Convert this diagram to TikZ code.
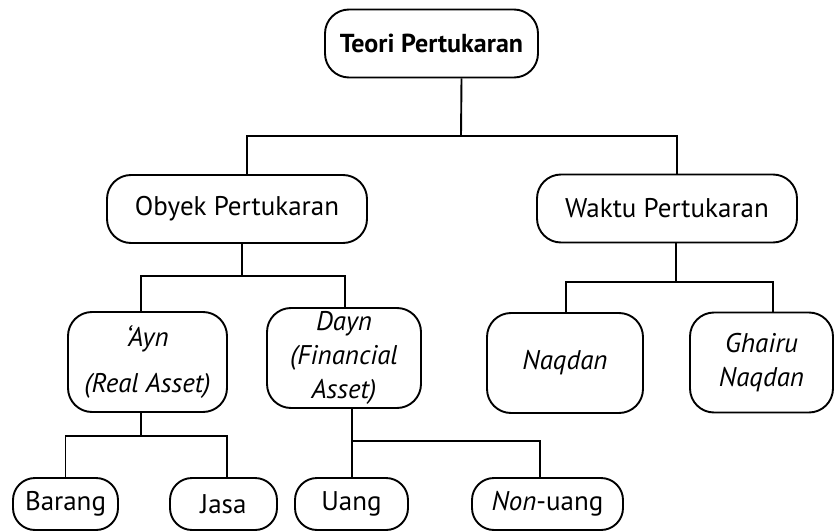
\documentclass[tikz,border=0pt]{standalone}
\usepackage{fontspec}
\setmainfont{PT Sans}
\begin{document}
\begin{tikzpicture}[x=1pt,y=-1pt,
  line width=1.9pt,
  kotak/.style={draw,rounded corners=24pt,align=center,inner sep=0pt,font=\fontsize{27}{34}\selectfont},
  besar/.style={kotak,minimum width=260pt,minimum height=68pt},
  sedang/.style={kotak,minimum width=156pt,minimum height=100pt},
  kecil/.style={kotak,rounded corners=22pt,minimum height=52pt}]
\useasboundingbox (0,0) rectangle (835,532);
% tingkat atas
\node[besar,minimum width=213pt,font=\fontsize{26}{34}\selectfont\bfseries] (teori) at (431.5,43.5) {Teori Pertukaran};
\node[besar] (obyek) at (237,209) {Obyek Pertukaran};
\node[besar] (waktu) at (667,208.5) {Waktu Pertukaran};
% tingkat tengah
\node[sedang,minimum width=159pt] (ayn) at (147.5,362) {\textit{`Ayn}\\[12pt]\textit{(Real Asset)}};
\node[sedang,minimum width=154pt] (dayn) at (344,358) {\textit{Dayn}\\\textit{(Financial}\\\textit{Asset)}};
\node[sedang] (naqdan) at (565,363) {\textit{Naqdan}};
\node[sedang,minimum width=143pt] (ghairu) at (761.5,362.5) {\textit{Ghairu}\\\textit{Naqdan}};
% tingkat bawah
\node[kecil,minimum width=105pt] (barang) at (65.5,504) {Barang};
\node[kecil,minimum width=107pt] (jasa) at (223.5,504) {Jasa};
\node[kecil,minimum width=113pt] (uang) at (351.5,504) {Uang};
\node[kecil,minimum width=151pt] (nonuang) at (547.5,504) {\textit{Non}-uang};
% garis
\coordinate (j0) at (461,136);
\draw ([xshift=30]teori.south) -- (j0);
\draw (j0) -| ([xshift=10]obyek.north);
\draw (j0) -| ([xshift=10]waktu.north);
\coordinate (j1) at (242,276);
\draw ([xshift=5]obyek.south) -- (j1);
\draw (j1) -| ([xshift=-6.5]ayn.north);
\draw (j1) -| ([xshift=1]dayn.north);
\coordinate (j2) at (676,282);
\draw ([xshift=9]waktu.south) -- (j2);
\draw (j2) -| ([xshift=1]naqdan.north);
\draw (j2) -| ([xshift=11.5]ghairu.north);
\coordinate (j3) at (141,436);
\draw ([xshift=-6.5]ayn.south) -- (j3);
\draw (j3) -| (barang.north);
\draw (j3) -| ([xshift=3.5]jasa.north);
\coordinate (j4) at (352,441);
\draw ([xshift=8]dayn.south) -- (j4);
\draw (j4) -- (uang.north -| j4);
\draw (j4) -| ([xshift=-7.5]nonuang.north);
\end{tikzpicture}
\end{document}
